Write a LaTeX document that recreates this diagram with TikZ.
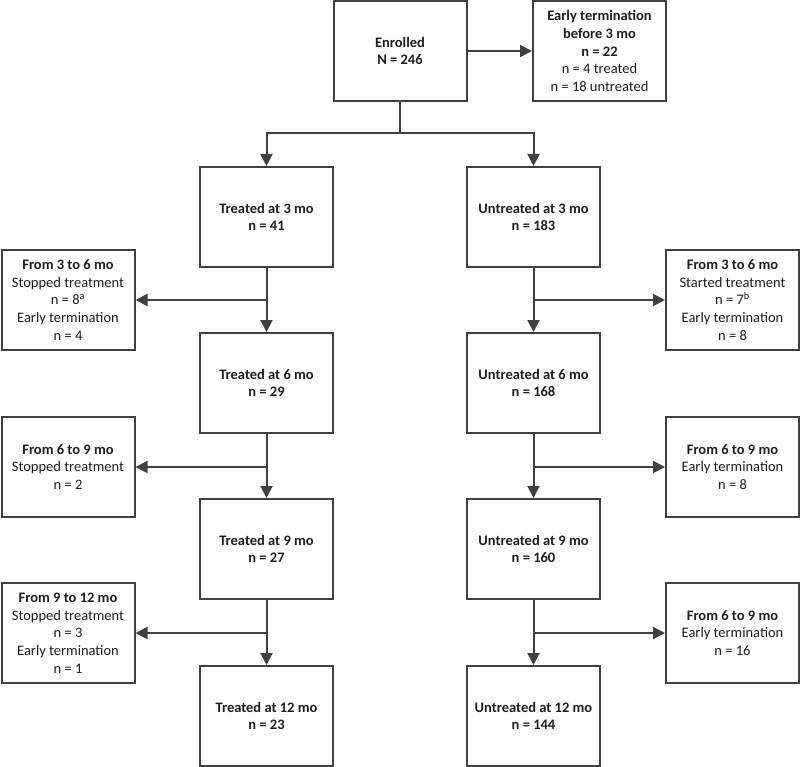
\documentclass[tikz,border=0pt]{standalone}
\usepackage{fontspec}
\setmainfont{Carlito}
\usetikzlibrary{arrows.meta}
\definecolor{lc}{RGB}{64,64,64}
\definecolor{tc}{RGB}{30,30,30}
\tikzset{
  box/.style={draw=lc, line width=2pt, minimum width=133pt, minimum height=100pt,
    inner sep=0pt, align=center, text=tc, font=\fontsize{14.5}{17.7}\selectfont},
  arr/.style={draw=lc, line width=2pt, -{Triangle[length=12pt,width=12pt]}},
  ln/.style={draw=lc, line width=2pt}
}
\begin{document}
\begin{tikzpicture}[x=1pt,y=-1pt]
\useasboundingbox (0,0) rectangle (800,767);
% main column
\node[box] (enr) at (400,51) {\textbf{Enrolled}\\\textbf{N = 246}};
\node[box] (early) at (599.5,51) {\textbf{Early termination}\\\textbf{before 3 mo}\\\textbf{n = 22}\\n = 4 treated\\n = 18 untreated};
\node[box] (t3) at (266.5,217) {\textbf{Treated at 3 mo}\\\textbf{n = 41}};
\node[box] (u3) at (533.5,217) {\textbf{Untreated at 3 mo}\\\textbf{n = 183}};
\node[box] (t6) at (266.5,383) {\textbf{Treated at 6 mo}\\\textbf{n = 29}};
\node[box] (u6) at (533.5,383) {\textbf{Untreated at 6 mo}\\\textbf{n = 168}};
\node[box] (t9) at (266.5,549) {\textbf{Treated at 9 mo}\\\textbf{n = 27}};
\node[box] (u9) at (533.5,549) {\textbf{Untreated at 9 mo}\\\textbf{n = 160}};
\node[box] (t12) at (266.5,716) {\textbf{Treated at 12 mo}\\\textbf{n = 23}};
\node[box] (u12) at (533.5,716) {\textbf{Untreated at 12 mo}\\\textbf{n = 144}};
% side boxes left
\node[box] (l1) at (68,300) {\textbf{From 3 to 6 mo}\\Stopped treatment\\n = 8\textsuperscript{a}\\Early termination\\n = 4};
\node[box] (l2) at (68,467) {\textbf{From 6 to 9 mo}\\Stopped treatment\\n = 2};
\node[box] (l3) at (68,633) {\textbf{From 9 to 12 mo}\\Stopped treatment\\n = 3\\Early termination\\n = 1};
% side boxes right
\node[box] (r1) at (732.5,300) {\textbf{From 3 to 6 mo}\\Started treatment\\n = 7\textsuperscript{b}\\Early termination\\n = 8};
\node[box] (r2) at (732.5,467) {\textbf{From 6 to 9 mo}\\Early termination\\n = 8};
\node[box] (r3) at (732.5,633) {\textbf{From 6 to 9 mo}\\Early termination\\n = 16};
% connectors
\coordinate (split) at (400,133);
\draw[arr] (enr.east) -- (early.west);
\draw[ln] (enr.south) -- (split);
\draw[arr] (split) -| (t3.north);
\draw[arr] (split) -| (u3.north);
\draw[arr] (t3.south) -- (t6.north);
\draw[arr] (u3.south) -- (u6.north);
\draw[arr] (t6.south) -- (t9.north);
\draw[arr] (u6.south) -- (u9.north);
\draw[arr] (t9.south) -- (t12.north);
\draw[arr] (u9.south) -- (u12.north);
\coordinate (bl1) at (t3.south |- l1.east);
\coordinate (bl2) at (t6.south |- l2.east);
\coordinate (bl3) at (t9.south |- l3.east);
\coordinate (br1) at (u3.south |- r1.west);
\coordinate (br2) at (u6.south |- r2.west);
\coordinate (br3) at (u9.south |- r3.west);
\draw[arr] (bl1) -- (l1.east);
\draw[arr] (bl2) -- (l2.east);
\draw[arr] (bl3) -- (l3.east);
\draw[arr] (br1) -- (r1.west);
\draw[arr] (br2) -- (r2.west);
\draw[arr] (br3) -- (r3.west);
\end{tikzpicture}
\end{document}
